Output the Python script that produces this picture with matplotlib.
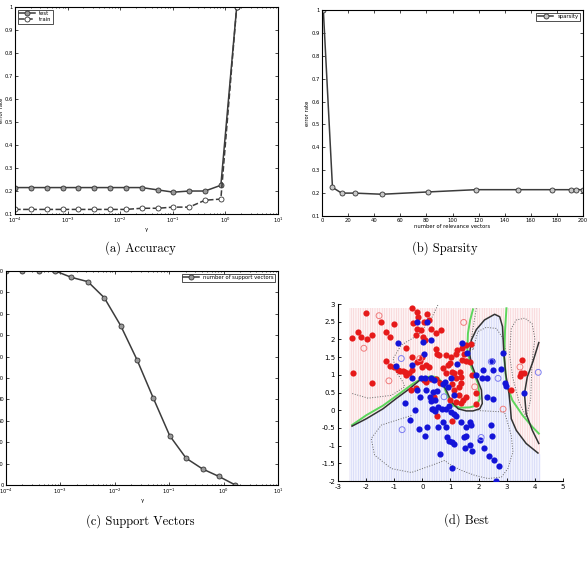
import numpy as np
import matplotlib
matplotlib.use('Agg')
import matplotlib.pyplot as plt
from matplotlib.patches import Polygon, Rectangle

# gamma grid used for (a) and (c)
gamma = [1e-4, 2e-4, 4e-4, 8e-4, 1.6e-3, 3.2e-3, 6.4e-3, 1.28e-2, 2.56e-2,
         5.12e-2, 0.1024, 0.2048, 0.4096, 0.8192, 1.6384]
test_err = [0.215, 0.215, 0.215, 0.215, 0.215, 0.215, 0.215, 0.215, 0.215,
            0.205, 0.195, 0.20, 0.20, 0.225, 1.0]
train_err = [0.12, 0.12, 0.12, 0.12, 0.12, 0.12, 0.12, 0.12, 0.125,
             0.125, 0.13, 0.13, 0.16, 0.165, 1.0]

# (b) sparsity
n_rv = [1, 8, 15, 25, 46, 81, 118, 150, 176, 191, 195, 200]
sparsity_err = [1.0, 0.225, 0.20, 0.20, 0.195, 0.205, 0.215, 0.215, 0.215,
                0.215, 0.215, 0.215]

# (c) support vectors
n_sv = [200, 200, 200, 200, 194, 190, 175, 149, 117, 81, 46, 25, 15, 8, 0]

err_ticks = [0.1, 0.2, 0.3, 0.4, 0.5, 0.6, 0.7, 0.8, 0.9, 1.0]
err_labels = ['0.1', '0.2', '0.3', '0.4', '0.5', '0.6', '0.7', '0.8', '0.9', '1']

# (d) points
red_pts = [(-2.50,2.03),(-2.02,2.74),(-2.29,2.22),(-2.17,2.08),(-1.96,2.00),(-1.78,2.12),
           (-1.46,2.48),(-1.28,2.20),(-1.16,2.08),(-1.00,2.43),(-1.28,1.40),(-1.16,1.25),
           (-2.47,1.04),(-1.79,0.77),(-0.38,2.88),(-0.19,2.78),(-0.16,2.62),(-0.33,2.45),
           (-0.19,2.28),(-0.21,2.12),(-0.04,2.26),(0.05,2.48),(0.18,2.72),(0.24,2.55),
           (0.02,2.08),(0.08,1.98),(0.29,2.28),(0.47,2.17),(0.67,2.26),(-0.57,1.75),
           (-0.36,1.51),(-0.19,1.37),(-0.07,1.40),(0.00,1.51),(0.14,1.27),(0.24,1.23),
           (0.00,1.23),(0.47,1.72),(0.52,1.60),(0.59,1.56),(0.85,1.56),(1.03,1.51),
           (0.91,1.27),(0.85,1.04),(1.04,1.08),(1.21,1.60),(1.24,1.69),(1.41,1.75),
           (1.47,1.60),(1.56,1.84),(1.42,1.43),(1.56,1.40),(1.68,1.37),(-0.87,1.14),
           (-0.81,1.10),(-0.69,1.10),(-0.60,1.08),(-0.48,1.04),(-0.57,0.99),(-0.36,1.13),
           (-1.00,1.23),(0.05,0.85),(-0.21,0.64),(-0.42,0.58),(0.41,0.38),(0.52,-0.15),
           (1.06,-0.31),(1.14,1.04),(1.21,0.90),(1.06,0.74),(1.11,0.57),(1.30,0.43),
           (1.44,0.30),(1.54,0.36),(1.36,0.20),(0.99,0.30),(1.20,0.23),(1.33,1.08),
           (1.39,0.94),(1.39,0.77),(1.30,0.66),(1.92,0.49),(1.89,0.18),(1.77,1.00),
           (3.16,0.58),(3.54,1.42),(3.52,1.04),(3.62,1.06),(3.46,0.96),(1.74,1.86),
           (0.73,1.18),(0.61,0.77),(0.50,0.87),(0.14,0.80),(0.29,0.89),(0.99,1.34)]
blue_pts = [(-0.87,1.91),(-0.93,1.25),(-0.36,1.27),(-0.36,0.90),(-0.19,2.50),(0.18,2.48),
            (0.02,1.93),(0.05,1.60),(0.29,1.97),(-0.04,0.92),(0.08,0.92),(0.30,0.92),
            (-0.19,0.57),(-0.09,0.36),(0.12,0.57),(0.26,0.38),(0.29,0.27),(0.44,0.29),
            (0.38,0.52),(0.52,0.54),(-0.60,0.20),(-0.27,0.01),(-0.45,-0.28),(-0.12,-0.52),
            (0.08,-0.73),(0.18,-0.47),(0.38,0.04),(0.44,-0.01),(0.33,0.04),(0.56,0.08),
            (0.71,0.04),(0.85,0.04),(0.95,0.13),(1.03,-0.05),(1.11,-0.10),(1.20,-0.15),
            (0.56,-0.47),(0.85,-0.47),(0.75,-0.33),(0.89,-0.75),(0.95,-0.88),(1.06,-0.90),
            (1.11,-0.95),(0.64,-1.23),(1.05,-1.64),(1.47,-0.75),(1.54,-0.73),(1.51,-1.08),
            (1.68,-0.99),(1.77,-1.15),(1.39,-0.33),(1.68,-0.33),(1.74,-0.42),(1.56,-0.47),
            (2.04,-0.83),(2.18,-1.08),(2.45,-0.42),(2.49,-0.73),(2.37,-1.29),(2.55,-1.40),
            (2.73,-1.58),(2.63,-2.00),(2.49,1.39),(2.17,1.13),(2.50,1.13),(2.79,1.15),
            (2.30,0.92),(2.30,0.36),(2.50,0.33),(2.85,1.62),(2.93,0.77),(2.99,0.68),
            (3.60,0.49),(1.42,1.89),(1.59,1.62),(1.24,1.30),(2.13,0.92),(1.89,1.00),
            (0.79,0.80),(0.73,0.75),(0.91,0.66),(1.03,0.92),(0.41,0.85),(1.11,0.43)]
red_open = [(-1.54,2.67),(-2.08,1.75),(-1.19,0.83),(-0.09,1.46),(1.47,2.48),
            (1.86,0.66),(2.87,0.03),(3.47,1.22)]
blue_open = [(-0.75,1.46),(-0.72,-0.55),(0.77,0.38),(2.69,0.90),(4.12,1.07),
             (2.09,-0.77),(2.45,1.37)]

# boundaries
rvm_main = [(-2.5,-0.45),(-1.99,-0.24),(-1.4,0.04),(-0.93,0.33),(-0.45,0.61),(-0.09,0.85),
            (0.2,0.92),(0.5,0.9),(0.67,0.8),(0.85,0.57),(1.03,0.24),(1.27,0.04),(1.56,-0.02),
            (1.8,-0.02),(2.04,0.04),(2.13,0.19),(2.1,0.57),(1.92,0.94),(1.74,1.32),(1.68,1.6),
            (1.74,1.98),(1.92,2.28),(2.21,2.55),(2.57,2.71),(2.75,2.64),(2.85,2.36),(2.89,1.7),
            (2.96,1.04),(3.08,0.47),(3.13,0.08),(3.16,-0.24),(3.34,-0.57),(3.69,-0.94),(4.11,-1.21)]
rvm_right = [(4.14,1.91),(3.93,1.37),(3.73,0.94),(3.63,0.47),(3.69,-0.1),(3.91,-0.57),(4.14,-0.94)]
bayes_main = [(-2.5,-0.42),(-1.99,-0.14),(-1.4,0.13),(-0.81,0.47),(-0.33,0.75),(0.02,0.91),
              (0.32,0.96),(0.56,0.92),(0.73,0.75),(0.91,0.37),(1.09,0.13),(1.33,0.07),(1.68,0.08),
              (1.92,0.13),(2.04,0.32),(1.98,0.75),(1.74,1.22),(1.6,1.7),(1.62,2.17),(1.7,2.55),(1.8,2.85)]
bayes_right = [(2.99,2.88),(2.94,2.26),(2.91,1.51),(2.99,0.75),(3.2,0.28),(3.56,-0.14),
               (3.91,-0.47),(4.14,-0.66)]
margin_red_left = [(0.55,2.97),(0.32,2.59),(-0.16,2.12),(-0.75,1.84),(-1.04,1.46),(-0.93,1.08),
                   (-0.69,0.8),(-0.63,0.66),(-1.1,0.42),(-1.93,0.34),(-2.53,0.48)]
margin_blue_low = [(-0.39,-0.15),(-1.46,-0.42),(-1.82,-0.8),(-1.7,-1.27),(-1.1,-1.65),(-0.39,-1.76),
                   (0.32,-1.56),(0.79,-1.42),(1.03,-1.56),(1.39,-1.7),(1.86,-1.84),(2.33,-1.93),
                   (2.81,-1.89),(3.04,-1.65),(3.22,-1.18),(3.16,-0.71),(2.92,-0.05),(1.97,-0.01)]
margin_blue_col = [(1.92,2.88),(1.74,2.03),(1.8,1.7),(1.97,2.22),(2.27,2.34),(2.63,2.31),
                   (2.87,2.03),(2.99,1.6)]
margin_red_right = [(3.16,2.31),(3.1,1.56),(3.22,0.9),(3.45,0.2),(3.7,-0.2),(3.85,0.3),
                    (3.9,1.37),(4.0,2.03),(3.9,2.45),(3.64,2.6),(3.34,2.55),(3.16,2.31)]

line_col = '#3c3c3c'
tick_fs = 3.8

plt.rcParams['hatch.linewidth'] = 0.35
fig = plt.figure(figsize=(5.87, 5.61), dpi=100)


def matlab_axes(ax):
    ax.tick_params(which='both', direction='in', top=True, right=True,
                   labelsize=tick_fs, length=2, width=0.5, pad=1.5)
    ax.tick_params(which='minor', length=1)
    for s in ax.spines.values():
        s.set_linewidth(0.8)


# (a) accuracy
ax = fig.add_axes([0.0256, 0.6185, 0.448, 0.369])
ax.plot(gamma, test_err, '-o', color=line_col, lw=1.1, ms=3.6,
        mfc='#999999', mec='#333333', mew=0.6, label='test')
ax.plot(gamma, train_err, '--o', color=line_col, lw=1.1, ms=3.6,
        mfc='white', mec='#333333', mew=0.6, label='train')
ax.set_xscale('log')
ax.set_xlim(1e-4, 1e1)
ax.set_ylim(0.1, 1.0)
ax.set_yticks(err_ticks)
ax.set_yticklabels(err_labels)
matlab_axes(ax)
ax.set_xlabel('γ', fontsize=tick_fs, labelpad=1)
ax.set_ylabel('error rate', fontsize=tick_fs, labelpad=0.5)
leg = ax.legend(loc='upper left', fontsize=tick_fs, fancybox=False, edgecolor='black',
                handlelength=3, borderpad=0.3, labelspacing=0.2, borderaxespad=0.5)
leg.get_frame().set_linewidth(0.6)

# (b) sparsity
ax = fig.add_axes([0.5486, 0.615, 0.4446, 0.367])
ax.plot(n_rv, sparsity_err, '-o', color=line_col, lw=1.1, ms=3.6,
        mfc='#c8c8c8', mec='#333333', mew=0.6, label='sparsity')
ax.set_xlim(0, 200)
ax.set_ylim(0.1, 1.0)
ax.set_xticks(range(0, 201, 20))
ax.set_yticks(err_ticks)
ax.set_yticklabels(err_labels)
matlab_axes(ax)
ax.set_xlabel('number of relevance vectors', fontsize=tick_fs, labelpad=1)
ax.set_ylabel('error rate', fontsize=tick_fs, labelpad=1)
leg = ax.legend(loc='upper right', fontsize=tick_fs, fancybox=False, edgecolor='black',
                handlelength=3, borderpad=0.3, borderaxespad=0.5)
leg.get_frame().set_linewidth(0.6)

# (c) support vectors
ax = fig.add_axes([0.0102, 0.1355, 0.4634, 0.3815])
ax.plot(gamma, n_sv, '-o', color=line_col, lw=1.1, ms=3.6,
        mfc='#999999', mec='#333333', mew=0.6, label='number of support vectors')
ax.set_xscale('log')
ax.set_xlim(1e-4, 1e1)
ax.set_ylim(0, 200)
ax.set_yticks(range(0, 201, 20))
matlab_axes(ax)
ax.set_xlabel('γ', fontsize=tick_fs, labelpad=1)
leg = ax.legend(loc='upper right', fontsize=tick_fs, fancybox=False, edgecolor='black',
                handlelength=3, borderpad=0.3, borderaxespad=0.5)
leg.get_frame().set_linewidth(0.6)

# (d) best
ax = fig.add_axes([0.5758, 0.1426, 0.3833, 0.3155])
ax.add_patch(Rectangle((-2.6, -2.0), 6.8, 4.9, facecolor='#fdf3f4', edgecolor='#f5c4c7',
                       linewidth=0, hatch='|||||||', zorder=0))
blue_poly = [(-2.6, -2.0), (-2.6, -0.55)] + rvm_main + [(4.2, -1.25), (4.2, -2.0)]
ax.add_patch(Polygon(blue_poly, closed=True, facecolor='#f1f2fd', edgecolor='#c4cbf4',
                     linewidth=0, hatch='|||||||', zorder=0))

for pts in [margin_red_left, margin_blue_low, margin_blue_col, margin_red_right]:
    xs, ys = zip(*pts)
    ax.plot(xs, ys, ':', color='#666666', lw=0.7, zorder=1)
for pts in [bayes_main, bayes_right]:
    xs, ys = zip(*pts)
    ax.plot(xs, ys, '-', color='#5cd65c', lw=1.4, zorder=2)
for pts in [rvm_main, rvm_right]:
    xs, ys = zip(*pts)
    ax.plot(xs, ys, '-', color='#333333', lw=1.1, zorder=3)

rx, ry = zip(*red_pts)
bx, by = zip(*blue_pts)
ax.scatter(rx, ry, s=20, color='#e61a1a', zorder=4, linewidths=0)
ax.scatter(bx, by, s=20, color='#1414d8', zorder=4, linewidths=0)
rox, roy = zip(*red_open)
box, boy = zip(*blue_open)
ax.scatter(rox, roy, s=18, facecolor='none', edgecolor='#f07c7c', linewidths=0.7, zorder=4)
ax.scatter(box, boy, s=18, facecolor='none', edgecolor='#7c7cf0', linewidths=0.7, zorder=4)

ax.set_xlim(-3, 5)
ax.set_ylim(-2, 3)
ax.set_xticks(range(-3, 6))
ax.set_yticks(np.arange(-2, 3.01, 0.5))
ax.set_yticklabels(['-2', '-1.5', '-1', '-0.5', '0', '0.5', '1', '1.5', '2', '2.5', '3'])
ax.set_xticklabels([str(v) for v in range(-3, 6)])
ax.spines['top'].set_visible(False)
ax.spines['right'].set_visible(False)
ax.tick_params(direction='in', labelsize=5, length=2, width=0.6, pad=2)

# captions
cap = dict(fontsize=9, family=['cmr10', 'DejaVu Serif'], ha='center', va='center')
fig.text(140 / 587, 1 - 248 / 561, '(a) Accuracy', **cap)
fig.text(445 / 587, 1 - 248 / 561, '(b) Sparsity', **cap)
fig.text(140 / 587, 1 - 521 / 561, '(c) Support Vectors', **cap)
fig.text(467 / 587, 1 - 520 / 561, '(d) Best', **cap)

fig.savefig('out.png', dpi=100)
